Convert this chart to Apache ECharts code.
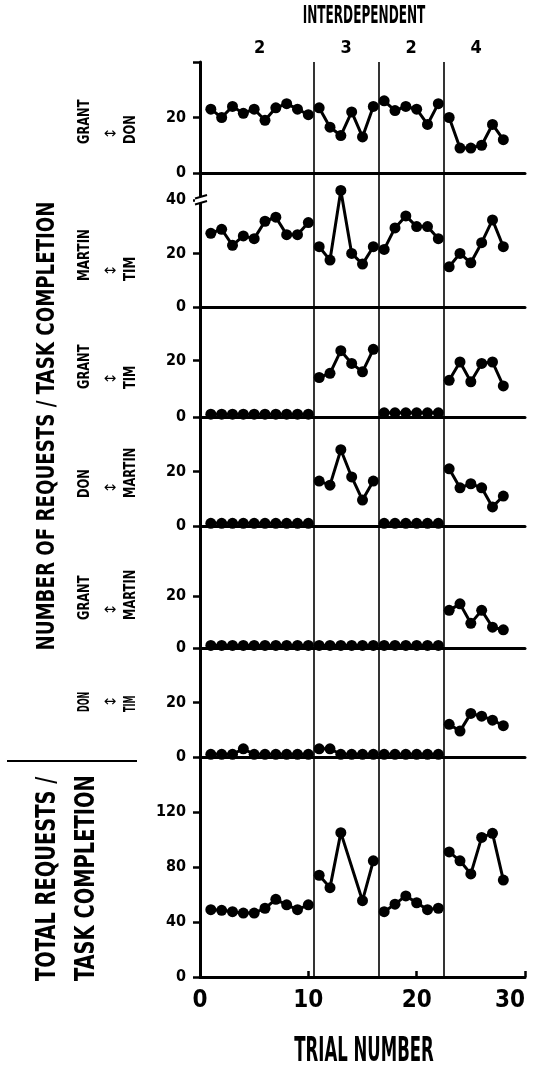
<!DOCTYPE html>
<html>
<head>
<meta charset="utf-8">
<script src="https://cdn.jsdelivr.net/npm/echarts@6/dist/echarts.min.js"></script>
<style>html,body{margin:0;padding:0;background:#fff}#c{width:534px;height:1067px}</style>
</head>
<body>
<div id="c"></div>
<script>
// ---- data ----
const trials = [1,2,3,4,5,6,7,8,9,10,11,12,13,14,15,16,17,18,19,20,21,22,23,24,25,26,27,28];
const phaseNames = ['2','3','2','4'];
const phaseStarts = [0.5, 10.5, 16.5, 22.5];
const phaseEnds = [10.5, 16.5, 22.5, 28.5];
const phaseBounds = [10.5, 16.5, 22.5];
const pairLeft = ['GRANT','MARTIN','GRANT','DON','GRANT','DON'];
const pairRight = ['DON','TIM','TIM','MARTIN','MARTIN','TIM'];
const xTickLabels = [0, 10, 20, 30];
const yTicks = [[0,20,40],[0,20,40],[0,20],[0,20],[0,20],[0,20],[0,40,80,120]];
const yTickLabels = [[0,20],[0,20,40],[0,20],[0,20],[0,20],[0,20],[0,40,80,120]];
const yMax = [40, 50, 39, 40, 47, 40, 160];

const grantDon    = [23,20,24,21.5,23,19,23.5,25,23,21, 23.5,16.5,13.5,22,13,24, 26,22.5,24,23,17.5,25, 20,9,9,10,17.5,12];
const martinTim   = [27.5,29,23,26.5,25.5,32,33.5,27,27,31.5, 22.5,17.5,43.5,20,16,22.5, 21.5,29.5,34,30,30,25.5, 15,20,16.5,24,32.5,22.5];
const grantTim    = [1,1,1,1,1,1,1,1,1,1, 14,15.5,23.5,19,16,24, 1.5,1.5,1.5,1.5,1.5,1.5, 13,19.5,12.5,19,19.5,11];
const donMartin   = [1,1,1,1,1,1,1,1,1,1, 16.5,15,28,18,9.5,16.5, 1,1,1,1,1,1, 21,14,15.5,14,7,11];
const grantMartin = [1,1,1,1,1,1,1,1,1,1, 1,1,1,1,1,1, 1,1,1,1,1,1, 14.5,17,9.5,14.5,8,7];
const donTim      = [1,1,1,3,1,1,1,1,1,1, 3,3,1,1,1,1, 1,1,1,1,1,1, 12,9.5,16,15,13.5,11.5];
const totalReq    = [49,48.5,47.5,46.5,46.5,50,56.5,52.5,49,52.5, 74,65,105,null,55.5,84.5, 47.5,53,59,54,49,50, 91,84.5,75,101.5,104.5,70.5];
const panels = [grantDon, martinTim, grantTim, donMartin, grantMartin, donTim, totalReq];

// ---- layout ----
const FONT = "'Liberation Sans Narrow','DejaVu Sans Condensed','Arial Narrow',sans-serif";
const panelTop = [62,173,307,417,526,648,757];
const panelBottom = [173,307,417,526,648,757,977];
const rowBottom = [144,281,389,498,620,712];
const rowScale = [0.85,0.88,0.85,0.85,0.85,0.6];

const chart = echarts.init(document.getElementById('c'), null, {renderer:'canvas'});

const grids = panelTop.map((t,i)=>({left:200, width:325, top:t, height:panelBottom[i]-t}));
const xAxes = grids.map((g,i)=>({
  gridIndex:i, type:'value', min:0, max:30, interval:10,
  axisLine:{show:true, onZero:false, lineStyle:{color:'#000', width:3}},
  axisTick:{show:i===6, inside:true, length:6, lineStyle:{color:'#000', width:2.5}},
  axisLabel:{show:i===6, fontFamily:FONT, fontWeight:'bold', fontSize:24, color:'#000', margin:12, alignMaxLabel:'right'},
  splitLine:{show:false}
}));
const yAxes = grids.map((g,i)=>({
  gridIndex:i, type:'value', min:0, max:yMax[i],
  axisLine:{show:true, lineStyle:{color:'#000', width:3}},
  axisTick:{show:true, length:7, customValues:yTicks[i], lineStyle:{color:'#000', width:2.5}},
  axisLabel:{customValues:yTickLabels[i], fontFamily:FONT, fontWeight:'bold', fontSize:16, color:'#000', margin:14},
  splitLine:{show:false}
}));

const series = [];
panels.forEach((vals,i)=>{
  phaseStarts.forEach((s,k)=>{
    const data = trials.map((t,j)=>[t, vals[j]]).filter(d=>d[0]>s && d[0]<phaseEnds[k] && d[1]!=null);
    const ser = {
      type:'line', xAxisIndex:i, yAxisIndex:i, data,
      symbol:'circle', symbolSize:11, showSymbol:true,
      lineStyle:{color:'#000', width:3}, itemStyle:{color:'#000'},
      animation:false, silent:true, z:3
    };
    if (k===0) {
      ser.markLine = {
        silent:true, symbol:['none','none'], animation:false,
        label:{show:false},
        lineStyle:{color:'#000', width:1.6, type:'solid'},
        data: phaseBounds.map(b=>({xAxis:b}))
      };
    }
    if (i===0 && k===0) {
      ser.markArea = {
        silent:true, animation:false,
        itemStyle:{color:'rgba(0,0,0,0)'},
        label:{show:true, position:'top', distance:5, formatter:'{b}', fontFamily:FONT, fontWeight:'bold', fontSize:18, color:'#000'},
        data: phaseNames.map((n,m)=>[{xAxis:phaseStarts[m], name:n},{xAxis:phaseEnds[m]}])
      };
    }
    series.push(ser);
  });
});

const graphic = [
  {type:'text', x:364, y:16.5, scaleX:0.56, style:{text:'INTERDEPENDENT', fontFamily:FONT, fontWeight:'bold', fontSize:24, fill:'#000', align:'center', verticalAlign:'middle'}},
  {type:'text', x:364, y:1052, scaleX:0.54, style:{text:'TRIAL NUMBER', fontFamily:FONT, fontWeight:'bold', fontSize:34, fill:'#000', align:'center', verticalAlign:'middle'}},
  {type:'text', x:47, y:426, rotation:Math.PI/2, scaleX:0.81, style:{text:'NUMBER OF REQUESTS / TASK COMPLETION', fontFamily:FONT, fontWeight:'bold', fontSize:25, fill:'#000', align:'center', verticalAlign:'middle'}},
  {type:'text', x:48, y:981, rotation:Math.PI/2, scaleX:0.8, style:{text:'TOTAL REQUESTS /', fontFamily:FONT, fontWeight:'bold', fontSize:27, fill:'#000', align:'left', verticalAlign:'middle'}},
  {type:'text', x:87, y:981, rotation:Math.PI/2, scaleX:0.8, style:{text:'TASK COMPLETION', fontFamily:FONT, fontWeight:'bold', fontSize:27, fill:'#000', align:'left', verticalAlign:'middle'}},
  {type:'line', shape:{x1:7, y1:761, x2:137, y2:761}, style:{stroke:'#000', lineWidth:2}},
  // axis break mark on panel 2 at 40
  {type:'rect', shape:{x:195, y:197, width:12, height:6}, style:{fill:'#fff'}, z:10},
  {type:'line', shape:{x1:195, y1:198.5, x2:207, y2:195}, style:{stroke:'#000', lineWidth:2}, z:11},
  {type:'line', shape:{x1:195, y1:204.5, x2:207, y2:201}, style:{stroke:'#000', lineWidth:2}, z:11}
];
pairLeft.forEach((w,i)=>{
  graphic.push({type:'text', x:85, y:rowBottom[i], rotation:Math.PI/2, scaleX:rowScale[i], style:{text:w, fontFamily:FONT, fontWeight:'bold', fontSize:15, fill:'#000', align:'left', verticalAlign:'middle'}});
  graphic.push({type:'text', x:131, y:rowBottom[i], rotation:Math.PI/2, scaleX:rowScale[i], style:{text:pairRight[i], fontFamily:FONT, fontWeight:'bold', fontSize:15, fill:'#000', align:'left', verticalAlign:'middle'}});
  graphic.push({type:'text', x:110, y:rowBottom[i]-10, style:{text:'\u2194', fontFamily:"'DejaVu Sans',sans-serif", fontSize:15, fill:'#000', align:'center', verticalAlign:'middle'}});
});

chart.setOption({
  backgroundColor:'#fff',
  animation:false,
  grid:grids, xAxis:xAxes, yAxis:yAxes, series, graphic
});
</script>
</body>
</html>
